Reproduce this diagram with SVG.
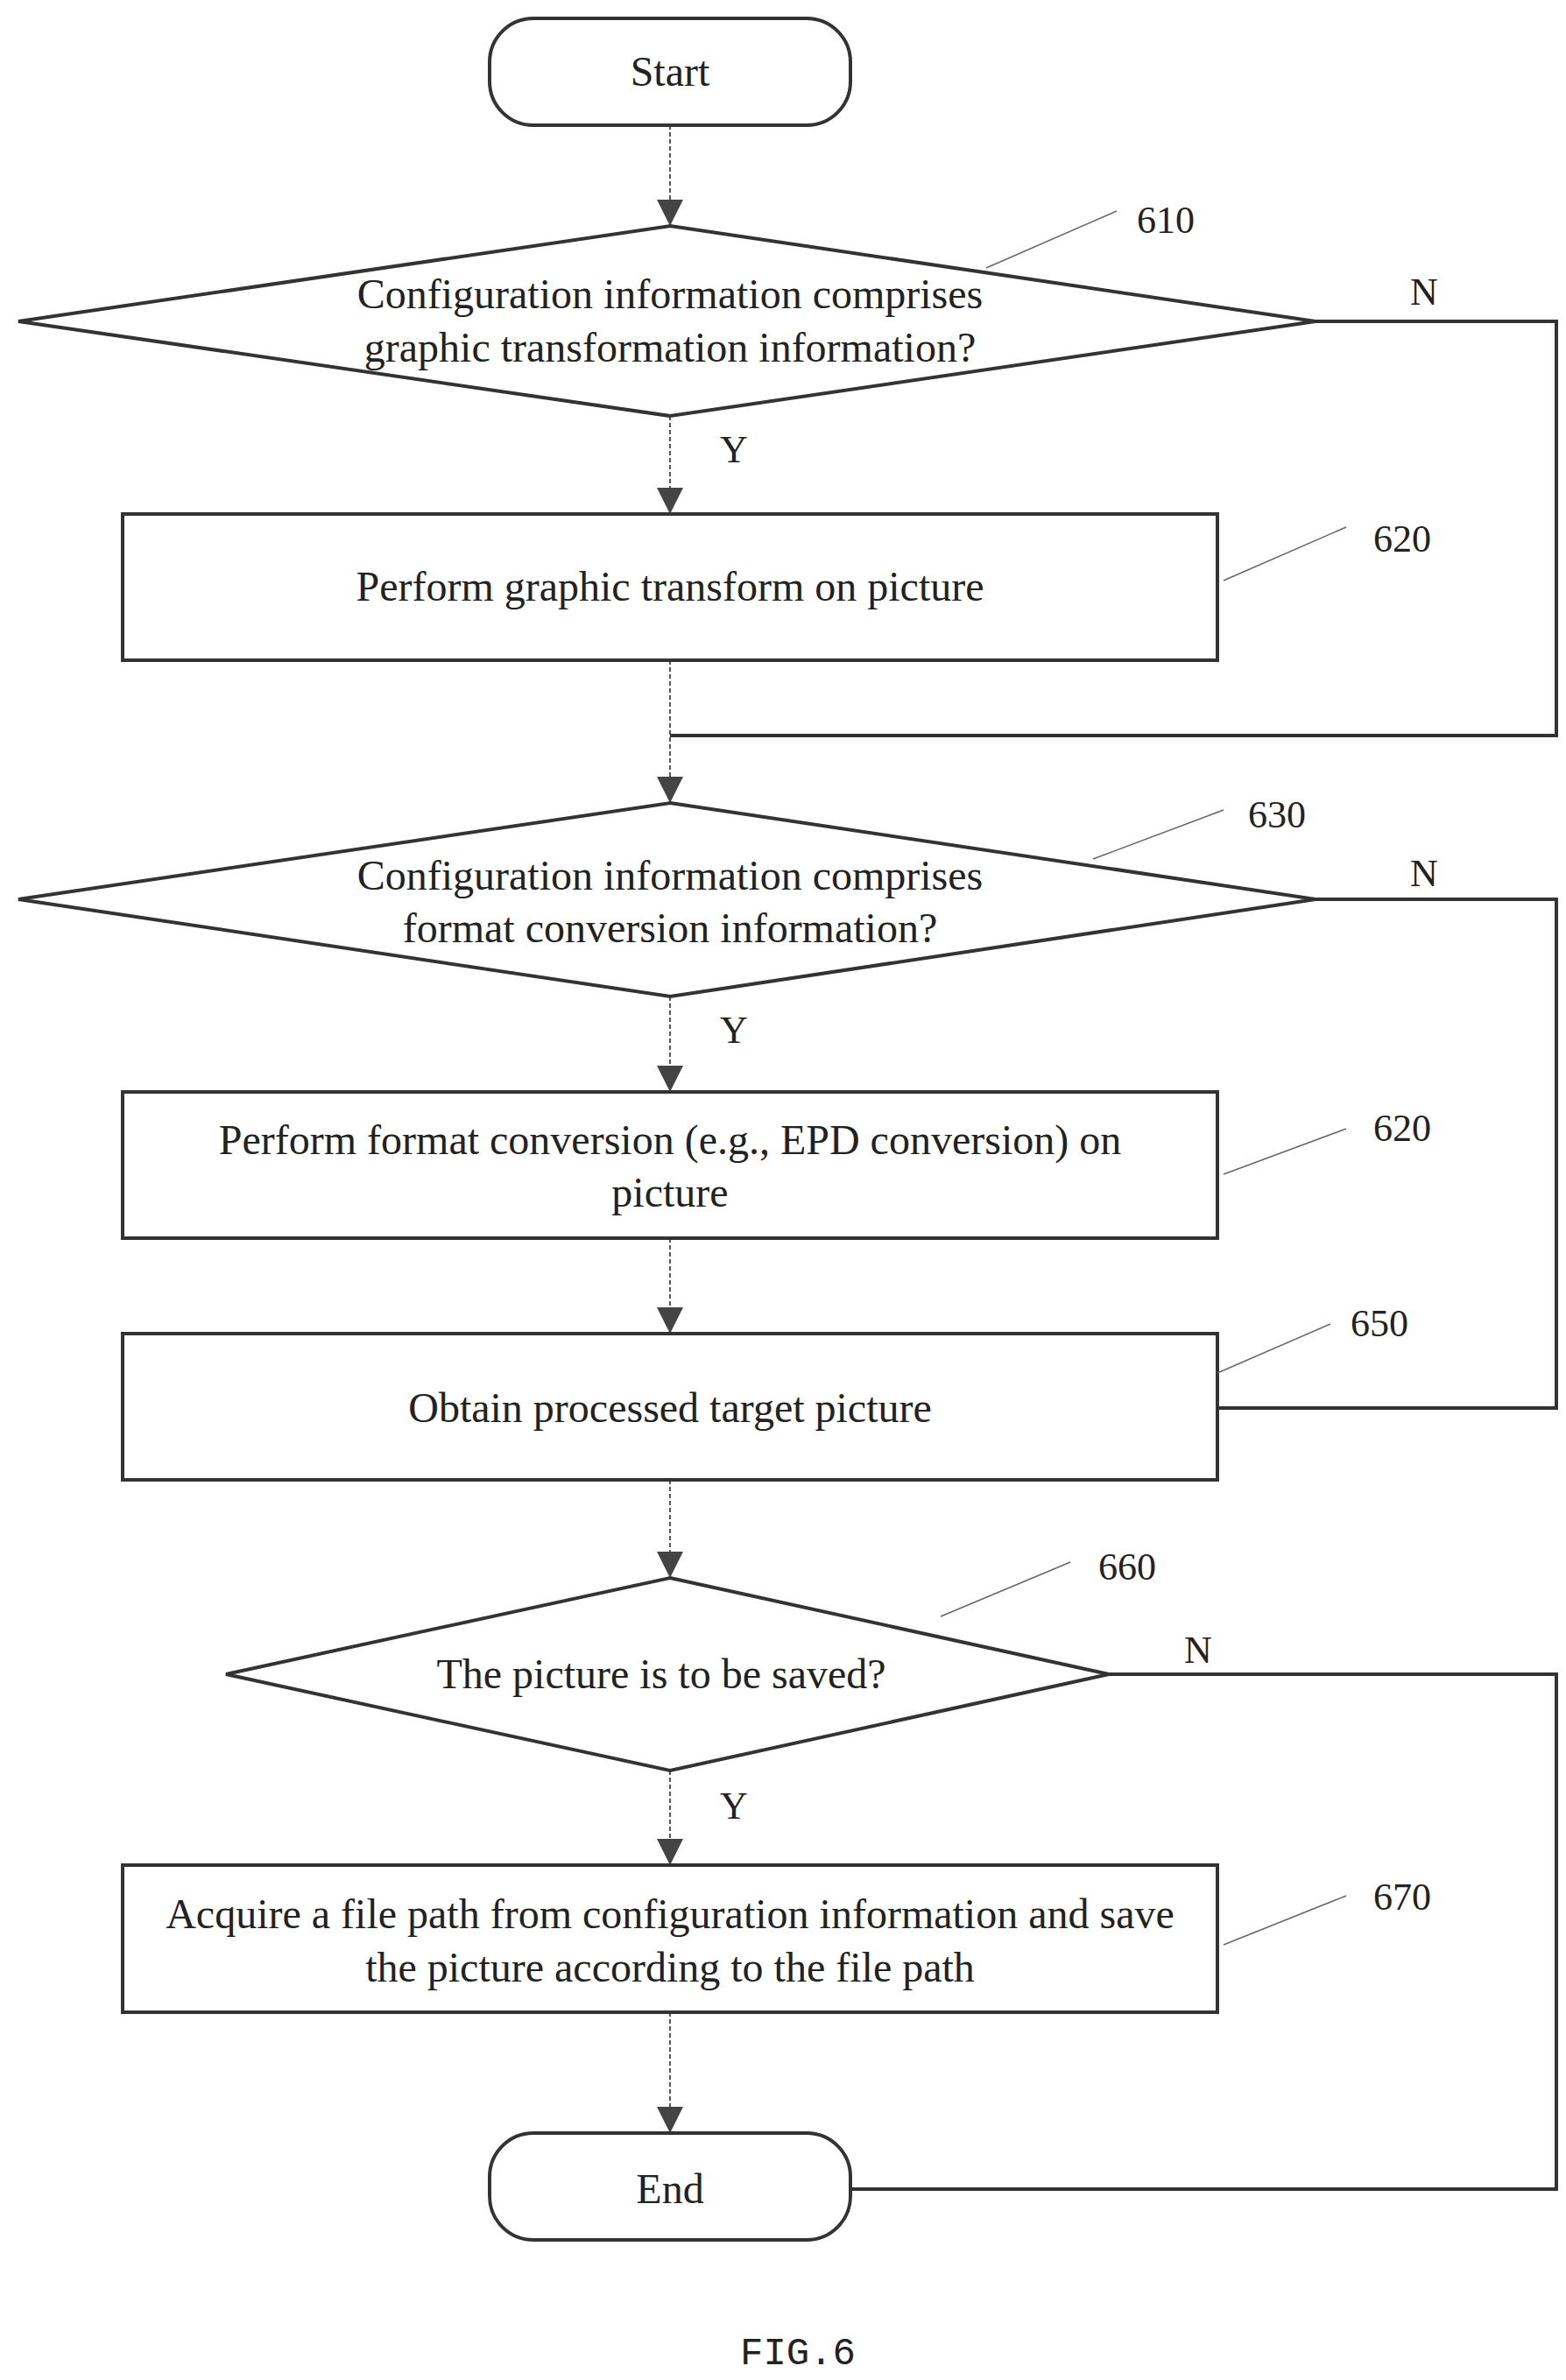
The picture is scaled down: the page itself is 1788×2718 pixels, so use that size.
<svg xmlns="http://www.w3.org/2000/svg" width="1788" height="2718" viewBox="0 0 1788 2718">
<style>
.n{fill:#fff;stroke:#333;stroke-width:4}
.t{font-family:"Liberation Serif",serif;font-size:48px;fill:#222;text-anchor:middle}
.l{font-family:"Liberation Serif",serif;font-size:44px;fill:#222}
.c{fill:none;stroke:#555;stroke-width:2;stroke-dasharray:5 3}
.s{fill:none;stroke:#333;stroke-width:4}
.d{stroke:#666;stroke-width:1.5}
</style>
<defs><marker id="A" viewBox="0 0 10 10" refX="10" refY="5" markerWidth="40" markerHeight="30" markerUnits="userSpaceOnUse" orient="auto"><path d="M0,0L10,5L0,10z" fill="#444"/></marker></defs>
<g id="connectors">
<line class="c" x1="765" y1="143" x2="765" y2="258" marker-end="url(#A)"/>
<line class="c" x1="765" y1="475" x2="765" y2="587" marker-end="url(#A)"/>
<line class="c" x1="765" y1="754" x2="765" y2="917" marker-end="url(#A)"/>
<polyline class="s" points="1502,367 1777,367 1777,840 765,840"/>
<line class="c" x1="765" y1="1138" x2="765" y2="1247" marker-end="url(#A)"/>
<line class="c" x1="765" y1="1414" x2="765" y2="1523" marker-end="url(#A)"/>
<polyline class="s" points="1502,1027 1777,1027 1777,1608 1390,1608"/>
<line class="c" x1="765" y1="1690" x2="765" y2="1802" marker-end="url(#A)"/>
<line class="c" x1="765" y1="2022" x2="765" y2="2130" marker-end="url(#A)"/>
<polyline class="s" points="1266,1912 1777,1912 1777,2500 971,2500"/>
<line class="c" x1="765" y1="2298" x2="765" y2="2436" marker-end="url(#A)"/>
<text class="l" x="1610" y="348">N</text>
<text class="l" x="1610" y="1012">N</text>
<text class="l" x="1352" y="1899">N</text>
<text class="l" x="822" y="528">Y</text>
<text class="l" x="822" y="1191">Y</text>
<text class="l" x="822" y="2077">Y</text>
</g>
<g id="start"><rect class="n" x="559" y="21" width="412" height="122" rx="50"/><text class="t" x="765" y="98">Start</text></g>
<g id="n610"><polygon class="n" points="765,258 1502,367 765,475 21,367"/>
<text class="t" x="765" y="352">Configuration information comprises</text><text class="t" x="765" y="413">graphic transformation information?</text>
<line class="d" x1="1126" y1="306" x2="1275" y2="241"/><text class="l" x="1298" y="266">610</text></g>
<g id="n620"><rect class="n" x="140" y="587" width="1250" height="167"/><text class="t" x="765" y="686">Perform graphic transform on picture</text>
<line class="d" x1="1397" y1="663" x2="1537" y2="602"/><text class="l" x="1568" y="630">620</text></g>
<g id="n630"><polygon class="n" points="765,917 1502,1027 765,1138 21,1027"/>
<text class="t" x="765" y="1016">Configuration information comprises</text><text class="t" x="765" y="1076">format conversion information?</text>
<line class="d" x1="1248" y1="981" x2="1397" y2="925"/><text class="l" x="1425" y="945">630</text></g>
<g id="n640"><rect class="n" x="140" y="1247" width="1250" height="167"/><text class="t" x="765" y="1318">Perform format conversion (e.g., EPD conversion) on</text><text class="t" x="765" y="1378">picture</text>
<line class="d" x1="1397" y1="1341" x2="1537" y2="1289"/><text class="l" x="1568" y="1303">620</text></g>
<g id="n650"><rect class="n" x="140" y="1523" width="1250" height="167"/><text class="t" x="765" y="1624">Obtain processed target picture</text>
<line class="d" x1="1390" y1="1568" x2="1519" y2="1512"/><text class="l" x="1542" y="1526">650</text></g>
<g id="n660"><polygon class="n" points="765,1802 1266,1912 765,2022 258,1912"/>
<text class="t" x="755" y="1928">The picture is to be saved?</text>
<line class="d" x1="1074" y1="1846" x2="1222" y2="1784"/><text class="l" x="1254" y="1804">660</text></g>
<g id="n670"><rect class="n" x="140" y="2130" width="1250" height="168"/><text class="t" x="765" y="2202">Acquire a file path from configuration information and save</text><text class="t" x="765" y="2263">the picture according to the file path</text>
<line class="d" x1="1397" y1="2221" x2="1537" y2="2165"/><text class="l" x="1568" y="2181">670</text></g>
<g id="end"><rect class="n" x="559" y="2436" width="412" height="122" rx="50"/><text class="t" x="765" y="2516">End</text></g>
<text x="911" y="2700" font-family="Liberation Mono,monospace" font-size="44" fill="#222" text-anchor="middle">FIG.6</text>
</svg>
